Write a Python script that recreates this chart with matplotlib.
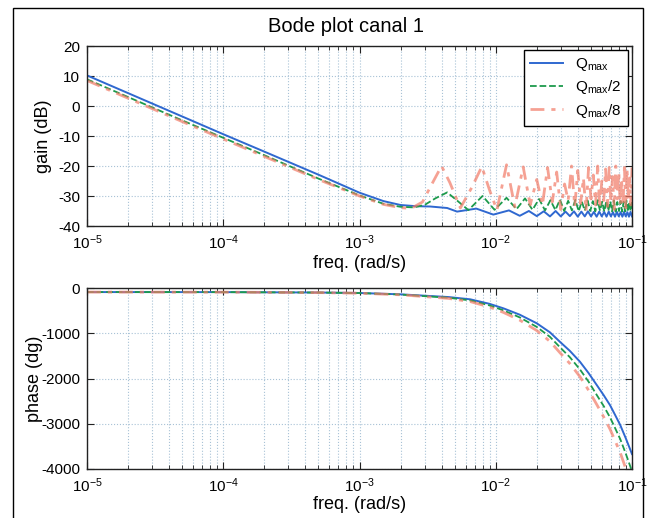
import numpy as np
import matplotlib
matplotlib.use('Agg')
import matplotlib.pyplot as plt
from matplotlib.patches import Rectangle
from matplotlib.ticker import LogLocator, NullLocator, NullFormatter

plt.rcParams['font.family'] = ['Liberation Sans', 'DejaVu Sans']
plt.rcParams['mathtext.fontset'] = 'custom'
plt.rcParams['mathtext.rm'] = 'Liberation Sans'
plt.rcParams['mathtext.default'] = 'regular'
plt.rcParams['axes.unicode_minus'] = False

# ---- gain data (freq in mrad/s, gain in dB) ----
freq_blue = [0.01, 0.02, 0.05, 0.1, 0.2, 0.5, 1.0, 1.5, 2.0, 2.6, 3.3, 4.4, 5.2, 7.2, 9.6,
             12.5, 15, 17.5, 20, 22.5, 25, 27.5, 30, 32.5, 35, 37.5, 40, 42.5, 45, 47.5, 50,
             52.5, 55, 57.5, 60, 62.5, 65, 67.5, 70, 72.5, 75, 77.5, 80, 82.5, 85, 87.5, 90,
             92.5, 95, 97.5, 100]
gain_blue = [10.2, 4.3, -3.5, -9.4, -15.2, -22.9, -28.9, -31.7, -33.0, -33.4, -33.5, -34.0, -35.2, -34.2, -36.2,
             -34.8, -36.6, -35.0, -36.7, -35.1, -36.8, -35.0, -36.8, -35.2, -36.7, -35.1, -36.9, -35.2, -36.8,
             -35.1, -36.8, -35.3, -36.9, -35.2, -36.8, -35.3, -36.9, -35.2, -36.8, -35.4, -36.9, -35.3, -36.8,
             -35.4, -36.9, -35.3, -36.8, -35.4, -36.9, -35.3, -36.8]

freq_green = [0.01, 0.02, 0.05, 0.1, 0.2, 0.5, 1.0, 1.5, 2.0, 2.5, 3.0, 3.6, 4.4, 5.2, 6.3, 8.0, 9.8,
              12.0, 14.2, 16.4, 18.6, 20.8, 23.0, 25.2, 27.4, 29.6, 31.8, 34.0, 36.2, 38.4, 40.6,
              42.8, 45.0, 47.2, 49.4, 51.6, 53.8, 56.0, 58.2, 60.4, 62.6, 64.8, 67.0, 69.2, 71.4,
              73.6, 75.8, 78.0, 80.2, 82.4, 84.6, 86.8, 89.0, 91.2, 93.4, 95.6, 97.8, 100.0]
gain_green = [8.9, 3.0, -4.8, -10.6, -16.4, -24.2, -29.8, -32.6, -33.6, -33.8, -33.0, -30.8, -28.8, -31.5,
              -34.7, -30.0, -34.6, -30.6, -34.4,
              -30.8, -34.6, -31.0, -34.8, -31.4, -34.7, -31.2, -35.0, -31.6, -34.8, -31.3, -35.1,
              -31.8, -34.9, -31.5, -35.0, -31.7, -35.1, -31.4, -34.9, -31.9, -35.2, -31.6, -35.0,
              -31.8, -35.1, -31.5, -35.2, -32.0, -35.0, -31.7, -35.2, -31.9, -35.1, -31.6, -35.2,
              -32.0, -35.0, -31.8]

freq_red = [0.01, 0.02, 0.05, 0.1, 0.2, 0.5, 1.0, 1.5, 2.0, 2.4, 2.9, 3.4, 4.0, 4.6, 5.5, 6.7, 7.9,
            9.0, 10.2, 12.0, 13.8, 15.9, 17.9,
            20, 22, 24, 26, 28, 30, 32, 34, 36, 38, 40, 42, 44, 46, 48, 50, 52, 54, 56, 58, 60,
            62, 64, 66, 68, 70, 72, 74, 76, 78, 80, 82, 84, 86, 88, 90, 92, 94, 96, 98, 100]
gain_red = [8.5, 2.6, -5.2, -11.0, -16.8, -24.5, -30.0, -32.8, -33.9, -34.1, -32.0, -26.0, -20.0, -25.5,
            -34.0, -27.0, -20.2, -28.0, -34.7, -19.6, -33.6, -20.3, -33.0,
            -24.5, -33.0, -20.5, -32.0, -22.0, -34.5, -26.0, -31.5, -20.0, -33.5, -21.5, -32.5,
            -24.0, -35.0, -20.5, -31.0, -23.0, -33.0, -20.0, -34.0, -25.0, -31.5, -21.0, -33.5,
            -20.5, -32.0, -23.5, -34.5, -20.0, -31.0, -22.0, -33.0, -25.5, -32.5, -20.5, -34.0,
            -21.0, -31.5, -24.0, -33.0, -20.5]

# ---- phase data (freq in rad/s, phase in degrees) ----
freq_phase = [1e-5, 1e-4, 5e-4, 1e-3, 2e-3, 3e-3, 4.5e-3, 6.5e-3, 9e-3, 1.14e-2, 1.5e-2, 2e-2, 2.5e-2,
              2.96e-2, 3.5e-2, 4.15e-2, 4.8e-2, 5.5e-2, 6.2e-2, 6.9e-2, 7.5e-2, 8.2e-2, 9e-2, 1e-1]
phase_blue = [-90, -91, -100, -110, -140, -170, -200, -250, -350, -450, -590, -780, -980, -1190,
              -1390, -1630, -1880, -2140, -2370, -2590, -2800, -3030, -3320, -3670]
phase_green = [-90, -91, -101, -112, -145, -180, -215, -275, -385, -495, -650, -860, -1080, -1310,
               -1530, -1800, -2070, -2360, -2610, -2860, -3090, -3340, -3660, -4050]
phase_red = [-90, -92, -102, -115, -150, -190, -230, -300, -420, -540, -710, -940, -1180, -1430,
             -1670, -1960, -2260, -2570, -2850, -3120, -3370, -3640, -3990, -4420]

labels = ['Q$_{max}$', 'Q$_{max}$/2', 'Q$_{max}$/8']
c_blue, c_green, c_red = '#2f68d0', '#1c9a4c', '#f27a66'
red_dash = (0, (5, 2.5, 1.5, 2.5))
grid_c = '#a8c2d6'

W, H = 660, 518
fig = plt.figure(figsize=(W / 100, H / 100), dpi=100)
ax1 = fig.add_axes([87 / W, 1 - 226 / H, 545 / W, 180 / H])
ax2 = fig.add_axes([87 / W, 1 - 469 / H, 545 / W, 181 / H])

ax1.semilogx(np.array(freq_blue) * 1e-3, gain_blue, color=c_blue, lw=1.4, label=labels[0])
ax1.semilogx(np.array(freq_green) * 1e-3, gain_green, '--', color=c_green, lw=1.3, label=labels[1])
ax1.semilogx(np.array(freq_red) * 1e-3, gain_red, color=c_red, ls=red_dash, lw=2.0, alpha=0.7,
             label=labels[2])

ax2.semilogx(freq_phase, phase_blue, color=c_blue, lw=1.4)
ax2.semilogx(freq_phase, phase_green, '--', color=c_green, lw=1.3)
ax2.semilogx(freq_phase, phase_red, color=c_red, ls=red_dash, lw=2.0, alpha=0.7)

ax1.set_ylim(-40, 20)
ax1.set_yticks([-40, -30, -20, -10, 0, 10, 20])
ax2.set_ylim(-4000, 0)
ax2.set_yticks([-4000, -3000, -2000, -1000, 0])

for ax in (ax1, ax2):
    ax.set_xlim(1e-5, 1e-1)
    ax.set_xticks([1e-5, 1e-4, 1e-3, 1e-2, 1e-1])
    ax.set_xticklabels(['$10^{-5}$', '$10^{-4}$', '$10^{-3}$', '$10^{-2}$', '$10^{-1}$'])
    ax.xaxis.set_minor_locator(LogLocator(base=10, subs=np.arange(2, 10)))
    ax.xaxis.set_minor_formatter(NullFormatter())
    ax.yaxis.set_minor_locator(NullLocator())
    ax.tick_params(which='both', direction='in', top=True, right=True, labelsize=11,
                   color='#222222', pad=5)
    ax.tick_params(which='major', length=5)
    ax.tick_params(which='minor', length=3)
    ax.grid(True, which='major', ls=':', color=grid_c, lw=0.8)
    ax.grid(True, which='minor', axis='x', ls=':', color=grid_c, lw=0.8)
    for s in ax.spines.values():
        s.set_color('#222222')
        s.set_linewidth(1.0)
    ax.set_xlabel('freq. (rad/s)', fontsize=13)

ax1.xaxis.set_label_coords(0.5, -0.16)
ax2.xaxis.set_label_coords(0.5, -0.148)
ax1.set_ylabel('gain (dB)', fontsize=13)
ax2.set_ylabel('phase (dg)', fontsize=13)
ax1.yaxis.set_label_coords(-0.064, 0.5)
ax2.yaxis.set_label_coords(-0.08, 0.5)

leg = ax1.legend(loc='upper right', bbox_to_anchor=(0.993, 0.978), borderaxespad=0,
                 fontsize=11, fancybox=False, framealpha=1, edgecolor='black',
                 handlelength=2.2, labelspacing=0.35)
leg.get_frame().set_linewidth(1.0)

fig.text(346 / W, 1 - 27 / H, 'Bode plot canal 1', ha='center', va='center', fontsize=14.5)
fig.add_artist(Rectangle((12.5 / W, -0.05), (643 - 12.5) / W, 1.05 - 7.5 / H,
                         transform=fig.transFigure, fill=False, lw=1.0, ec='black'))

fig.savefig('out.png', dpi=100)
